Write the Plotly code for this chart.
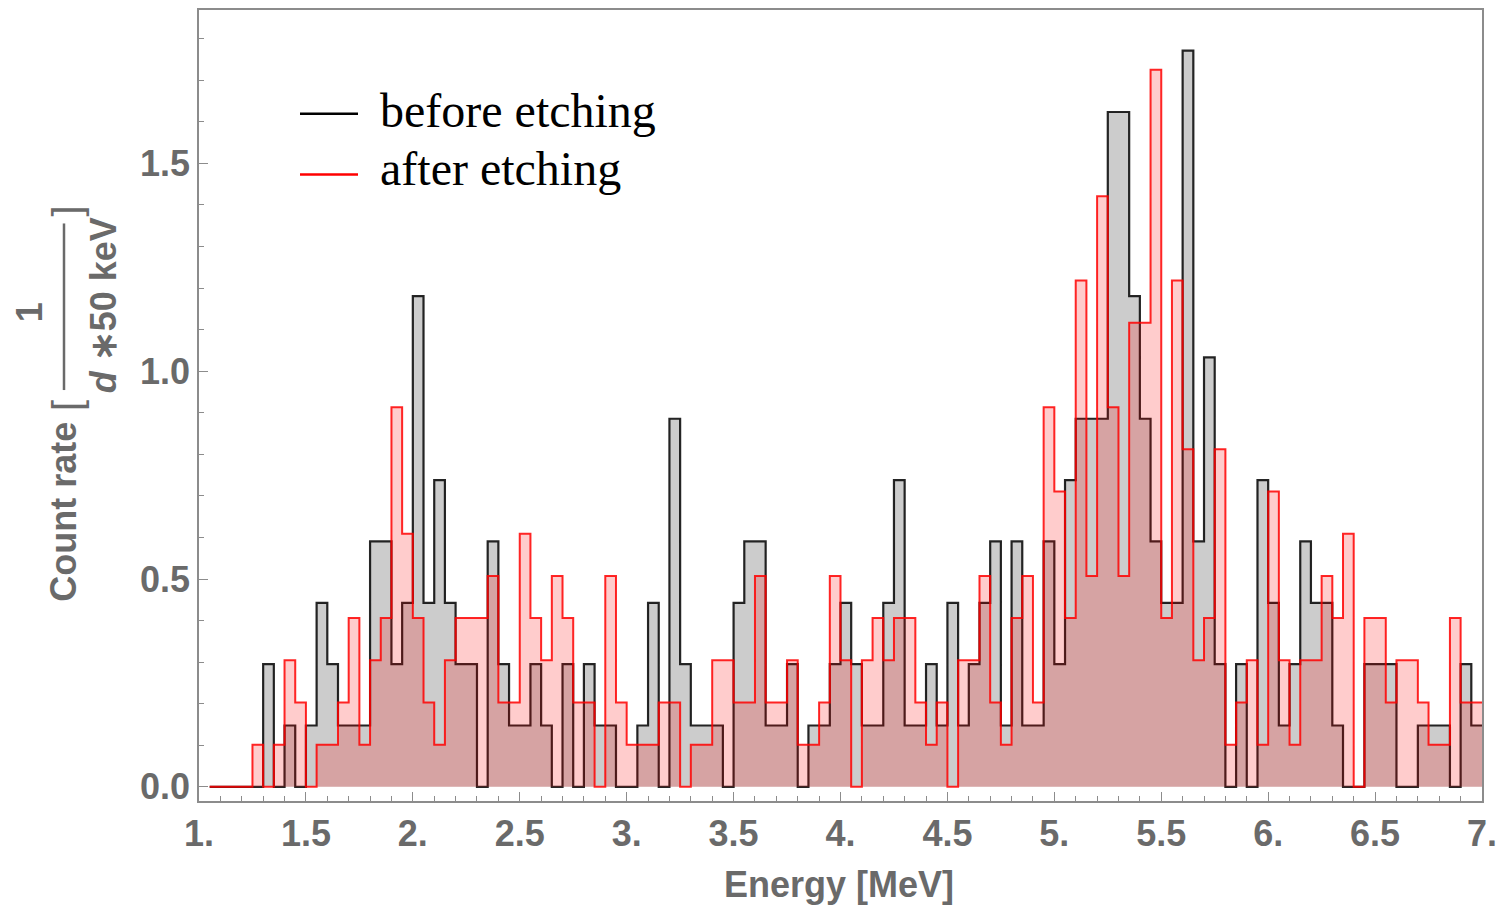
import plotly.graph_objects as go

# ---------------- data ----------------
hist_start = 1.05      # MeV, left edge of first drawn bin
bin_width = 0.05       # MeV

# counts per 50 keV bin, bins starting at 1.05 MeV
before_counts = [0, 0, 0, 0, 0, 2, 0, 1, 0, 1,
                 3, 2, 1, 1, 1, 4, 4, 2, 3, 8,
                 3, 5, 3, 2, 2, 0, 4, 2, 1, 1,
                 2, 1, 0, 2, 0, 2, 1, 1, 0, 0,
                 1, 3, 0, 6, 2, 1, 1, 1, 0, 3,
                 4, 4, 1, 1, 2, 0, 1, 1, 2, 3,
                 2, 1, 1, 3, 5, 1, 1, 2, 1, 3,
                 1, 2, 3, 4, 1, 4, 1, 1, 4, 2,
                 5, 6, 6, 6, 11, 11, 8, 6, 4, 3,
                 3, 12, 4, 7, 2, 0, 2, 0, 5, 3,
                 1, 2, 4, 3, 3, 1, 0, 0, 2, 2,
                 2, 0, 0, 1, 1, 1, 0, 2, 1]
after_counts = [0, 0, 0, 0, 1, 0, 1, 3, 2, 0,
                1, 1, 2, 4, 1, 3, 4, 9, 6, 4,
                2, 1, 3, 4, 4, 4, 5, 2, 2, 6,
                4, 3, 5, 4, 2, 2, 0, 5, 2, 1,
                1, 1, 2, 2, 0, 1, 1, 3, 3, 2,
                2, 5, 2, 2, 3, 1, 1, 2, 5, 3,
                0, 3, 4, 3, 4, 4, 2, 1, 2, 0,
                3, 3, 5, 2, 1, 4, 5, 2, 9, 7,
                4, 12, 5, 14, 9, 5, 11, 11, 17, 4,
                12, 8, 3, 4, 8, 1, 2, 3, 1, 7,
                3, 1, 3, 3, 5, 4, 6, 0, 4, 4,
                2, 3, 3, 2, 1, 1, 4, 2, 2]
before_rate_per_count = 0.1476   # 1/(d*50 keV) per count
after_rate_per_count = 0.1015

x_tickvals = [1.0, 1.5, 2.0, 2.5, 3.0, 3.5, 4.0, 4.5, 5.0, 5.5, 6.0, 6.5, 7.0]
x_ticktext = ["1.", "1.5", "2.", "2.5", "3.", "3.5", "4.", "4.5", "5.", "5.5", "6.", "6.5", "7."]
y_tickvals = [0.0, 0.5, 1.0, 1.5]
y_ticktext = ["0.0", "0.5", "1.0", "1.5"]
x_range = [1.0, 7.0]
y_range = [-0.034, 1.869]

series_names = ["before etching", "after etching"]

# ---------------- figure ----------------
W, H = 1510, 909
ML, MR, MT, MB = 199, 28, 8, 108
PW, PH = W - ML - MR, H - MT - MB


def px(xp):
    return (xp - ML) / PW


def py(yp):
    return (H - MB - yp) / PH


def step_xy(counts, k):
    vals = [c * k for c in counts]
    n = len(vals)
    xs = [hist_start + i * bin_width for i in range(n + 1)]
    ys = vals + [vals[-1]]
    return xs, ys


fig = go.Figure()
bx, by = step_xy(before_counts, before_rate_per_count)
ax, ay = step_xy(after_counts, after_rate_per_count)

fig.add_trace(go.Scatter(x=bx, y=by, mode="lines", line_shape="hv",
                         line=dict(color="rgba(0,0,0,0.85)", width=2.2),
                         fill="tozeroy", fillcolor="rgba(0,0,0,0.2)",
                         name=series_names[0], showlegend=False))
fig.add_trace(go.Scatter(x=ax, y=ay, mode="lines", line_shape="hv",
                         line=dict(color="rgba(255,0,0,0.85)", width=2.0),
                         fill="tozeroy", fillcolor="rgba(255,0,0,0.2)",
                         name=series_names[1], showlegend=False))

axis_col = "#8c8c8c"
lab_col = "#6a6a6a"
tick_font = dict(family="Liberation Sans, Arial, sans-serif", size=36, color=lab_col, weight="bold")

fig.update_xaxes(range=x_range, showline=True, mirror=True, linecolor=axis_col, linewidth=1.5,
                 ticks="inside", ticklen=9, tickwidth=1.2, tickcolor=axis_col,
                 tickvals=x_tickvals, ticktext=x_ticktext, tickfont=tick_font,
                 minor=dict(ticks="inside", dtick=0.1, ticklen=5, tickcolor=axis_col, tickwidth=1),
                 showgrid=False, zeroline=False)
fig.update_yaxes(range=y_range, showline=True, mirror=True, linecolor=axis_col, linewidth=1.5,
                 ticks="inside", ticklen=9, tickwidth=1.2, tickcolor=axis_col,
                 tickvals=y_tickvals, ticktext=y_ticktext, tickfont=tick_font,
                 minor=dict(ticks="inside", tick0=0, dtick=0.1, ticklen=5, tickcolor=axis_col, tickwidth=1),
                 showgrid=False, zeroline=False)

title_font = dict(family="Liberation Sans, Arial, sans-serif", size=36, color=lab_col, weight="bold")
legend_font = dict(family="Liberation Serif, Times New Roman, serif", size=48, color="black")
annotations = [
    dict(text="Energy [MeV]", x=px(839), y=py(885), xref="paper", yref="paper",
         showarrow=False, xanchor="center", yanchor="middle", font=title_font),
    dict(text="Count rate", x=px(64), y=py(511), xref="paper", yref="paper",
         showarrow=False, xanchor="center", yanchor="middle", textangle=-90, font=title_font),
    dict(text="[", x=px(67), y=py(405), xref="paper", yref="paper",
         showarrow=False, xanchor="center", yanchor="middle", textangle=-90,
         font=dict(family="Liberation Sans, Arial, sans-serif", size=40, color=lab_col)),
    dict(text="]", x=px(67), y=py(210), xref="paper", yref="paper",
         showarrow=False, xanchor="center", yanchor="middle", textangle=-90,
         font=dict(family="Liberation Sans, Arial, sans-serif", size=40, color=lab_col)),
    dict(text="1", x=px(29), y=py(311), xref="paper", yref="paper",
         showarrow=False, xanchor="center", yanchor="middle", textangle=-90, font=title_font),
    dict(text="<i>d</i> ∗50 keV", x=px(103), y=py(304), xref="paper", yref="paper",
         showarrow=False, xanchor="center", yanchor="middle", textangle=-90, font=title_font),
    dict(text=series_names[0], x=px(378), y=py(109), xref="paper", yref="paper",
         showarrow=False, xanchor="left", yanchor="middle", font=legend_font),
    dict(text=series_names[1], x=px(378), y=py(167), xref="paper", yref="paper",
         showarrow=False, xanchor="left", yanchor="middle", font=legend_font),
]

shapes = [
    dict(type="line", xref="paper", yref="paper", x0=px(64), x1=px(64), y0=py(222), y1=py(389),
         line=dict(color=lab_col, width=2.5)),
    dict(type="line", xref="paper", yref="paper", x0=px(300), x1=px(358), y0=py(112), y1=py(112),
         line=dict(color="black", width=2.5)),
    dict(type="line", xref="paper", yref="paper", x0=px(300), x1=px(358), y0=py(173), y1=py(173),
         line=dict(color="red", width=2.5)),
]

fig.update_layout(width=W, height=H, margin=dict(l=ML, r=MR, t=MT, b=MB),
                  paper_bgcolor="white", plot_bgcolor="white",
                  annotations=annotations, shapes=shapes, showlegend=False)

fig.write_html("out.html")
